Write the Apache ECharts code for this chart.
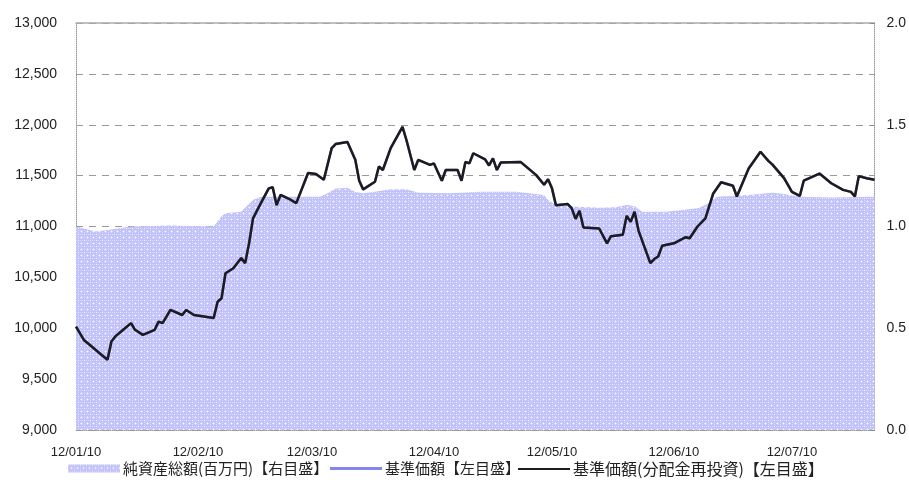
<!DOCTYPE html>
<html>
<head>
<meta charset="utf-8">
<script src="https://cdn.jsdelivr.net/npm/echarts@6/dist/echarts.min.js"></script>
<style>
html,body{margin:0;padding:0;background:#fff;}
#chart{width:909px;height:493px;}
</style>
</head>
<body>
<div id="chart"></div>
<script>
// ---- data ----
const navDates = ['2012-01-10','2012-01-12','2012-01-14','2012-01-16','2012-01-18','2012-01-19','2012-01-20','2012-01-22','2012-01-24','2012-01-25','2012-01-27','2012-01-30','2012-01-31','2012-02-01','2012-02-02','2012-02-03','2012-02-06','2012-02-07','2012-02-09','2012-02-14','2012-02-15','2012-02-16','2012-02-17','2012-02-19','2012-02-21','2012-02-22','2012-02-23','2012-02-24','2012-02-26','2012-02-28','2012-02-29','2012-03-01','2012-03-02','2012-03-04','2012-03-06','2012-03-09','2012-03-11','2012-03-13','2012-03-15','2012-03-16','2012-03-19','2012-03-21','2012-03-22','2012-03-23','2012-03-26','2012-03-27','2012-03-28','2012-03-30','2012-04-02','2012-04-03','2012-04-05','2012-04-06','2012-04-09','2012-04-10','2012-04-12','2012-04-13','2012-04-16','2012-04-17','2012-04-18','2012-04-19','2012-04-20','2012-04-23','2012-04-24','2012-04-25','2012-04-26','2012-04-27','2012-05-02','2012-05-06','2012-05-08','2012-05-09','2012-05-10','2012-05-11','2012-05-14','2012-05-15','2012-05-16','2012-05-17','2012-05-18','2012-05-22','2012-05-24','2012-05-25','2012-05-28','2012-05-29','2012-05-30','2012-05-31','2012-06-01','2012-06-04','2012-06-05','2012-06-06','2012-06-07','2012-06-10','2012-06-13','2012-06-14','2012-06-16','2012-06-18','2012-06-20','2012-06-22','2012-06-25','2012-06-26','2012-06-29','2012-07-02','2012-07-04','2012-07-05','2012-07-08','2012-07-10','2012-07-12','2012-07-13','2012-07-17','2012-07-20','2012-07-23','2012-07-25','2012-07-26','2012-07-27','2012-07-29','2012-07-31'];
const navReinvest = [10015,9885,9820,9755,9690,9870,9920,9985,10050,9985,9935,9985,10065,10050,10115,10180,10130,10180,10130,10100,10260,10295,10540,10590,10690,10640,10835,11080,11230,11375,11385,11210,11310,11275,11230,11525,11515,11460,11770,11810,11830,11655,11450,11365,11440,11590,11555,11770,11980,11850,11555,11655,11605,11620,11450,11555,11555,11450,11635,11620,11720,11660,11600,11670,11555,11630,11635,11505,11410,11465,11375,11210,11220,11180,11075,11155,10990,10980,10835,10905,10920,11105,11045,11145,10960,10640,10680,10705,10810,10835,10895,10885,11000,11080,11325,11435,11400,11295,11570,11735,11645,11610,11475,11340,11300,11450,11520,11425,11360,11340,11295,11495,11475,11460];
// 基準価額 (no distributions paid, so identical to reinvested series)
const navBase = navReinvest;

const assetDates = ['2012-01-10','2012-01-12','2012-01-15','2012-01-19','2012-01-24','2012-02-03','2012-02-14','2012-02-16','2012-02-17','2012-02-21','2012-02-24','2012-02-26','2012-03-07','2012-03-12','2012-03-14','2012-03-16','2012-03-19','2012-03-21','2012-03-23','2012-03-26','2012-03-30','2012-04-03','2012-04-06','2012-04-14','2012-04-22','2012-05-01','2012-05-08','2012-05-09','2012-05-11','2012-05-14','2012-05-22','2012-05-26','2012-05-29','2012-05-31','2012-06-02','2012-06-08','2012-06-16','2012-06-18','2012-06-21','2012-06-29','2012-07-05','2012-07-08','2012-07-12','2012-07-20','2012-07-31'];
const netAssets = [1.00,0.99,0.975,0.985,1.0,1.005,1.0,1.05,1.065,1.073,1.13,1.146,1.146,1.146,1.163,1.187,1.19,1.17,1.163,1.171,1.183,1.183,1.166,1.163,1.171,1.171,1.155,1.13,1.106,1.10,1.092,1.095,1.106,1.10,1.073,1.073,1.09,1.106,1.146,1.155,1.166,1.16,1.146,1.143,1.146];

const xTickDates = ['2012-01-10','2012-02-10','2012-03-10','2012-04-10','2012-05-10','2012-06-10','2012-07-10'];
const xTickLabels = ['12/01/10','12/02/10','12/03/10','12/04/10','12/05/10','12/06/10','12/07/10'];
const legendNames = ['純資産総額(百万円)【右目盛】','基準価額【左目盛】','基準価額(分配金再投資)【左目盛】'];

// ---- helpers ----
function ts(s){const p=s.split('-');return Date.UTC(+p[0],+p[1]-1,+p[2]);}
const tickTs = xTickDates.map(ts);
function makePattern(){
  const c=document.createElement('canvas');c.width=6;c.height=6;
  const g=c.getContext('2d');
  g.fillStyle='rgb(192,192,250)';g.fillRect(0,0,6,6);
  g.fillStyle='rgba(255,255,255,0.85)';
  g.fillRect(0,0,1,1);g.fillRect(3,3,1,1);
  g.fillStyle='rgba(255,255,255,0.45)';
  g.fillRect(2,3,1,1);g.fillRect(4,3,1,1);g.fillRect(3,2,1,1);g.fillRect(3,4,1,1);
  g.fillRect(0,2,1,1);g.fillRect(2,0,1,1);g.fillRect(4,0,1,1);g.fillRect(0,4,1,1);
  return c;
}
const pattern={image:makePattern(),repeat:'repeat'};
function lineIcon(color,half){
  const a=0.5-half, b=0.5+half;
  return {type:'linear',x:0,y:0,x2:0,y2:1,colorStops:[
    {offset:0,color:'rgba(255,255,255,0)'},{offset:a,color:'rgba(255,255,255,0)'},
    {offset:a,color:color},{offset:b,color:color},
    {offset:b,color:'rgba(255,255,255,0)'},{offset:1,color:'rgba(255,255,255,0)'}]};
}
const blueLine='#8585f0', blackLine='#1c1c1c';

const chart=echarts.init(document.getElementById('chart'),null,{renderer:'canvas'});
const axisFont={fontFamily:'Liberation Sans',fontSize:13,color:'#222'};
const legendText={fontFamily:'Noto Sans CJK JP',fontSize:15,color:'#222'};
const xMin=ts('2012-01-10'), xMax=ts('2012-07-31');
function legendAt(left,idx,itemStyle,fs){
  return {top:461,left:left,itemWidth:52,itemHeight:8,itemGap:0,padding:0,
    textStyle:Object.assign({padding:[0,0,0,-2]},legendText,{fontSize:fs}),selectedMode:false,
    data:[{name:legendNames[idx],icon:'rect',itemStyle:itemStyle}]};
}
chart.setOption({
  animation:false,
  backgroundColor:'#fff',
  grid:{left:76,right:32,top:23,bottom:63,containLabel:false},
  legend:[
    legendAt(68,0,{color:pattern},15),
    legendAt(330,1,{color:lineIcon(blueLine,0.2)},15),
    legendAt(518,2,{color:lineIcon(blackLine,0.14)},16)
  ],
  xAxis:[{
    type:'value',min:xMin,max:xMax,
    axisLine:{show:true,lineStyle:{color:'#999',type:[1,1],width:1}},
    axisTick:{show:true,inside:true,length:4,customValues:tickTs,lineStyle:{color:'#888'}},
    axisLabel:Object.assign({customValues:tickTs,margin:16,
      formatter:function(v){const i=tickTs.indexOf(v);return i>=0?xTickLabels[i]:'';}},axisFont),
    splitLine:{show:false}
  },{
    type:'value',position:'top',min:xMin,max:xMax,
    axisLine:{show:true,lineStyle:{color:'#aaa',width:1.5}},
    axisTick:{show:false},axisLabel:{show:false},splitLine:{show:false}
  }],
  yAxis:[{
    type:'value',min:9000,max:13000,interval:500,position:'left',
    axisLine:{show:true,lineStyle:{color:'#999',type:[1,1]}},
    axisTick:{show:false},
    axisLabel:Object.assign({margin:19,formatter:function(v){return v.toLocaleString('en-US');}},axisFont,{fontSize:14}),
    splitLine:{show:true,lineStyle:{color:'#9a9a9a',type:[7,6],width:1}}
  },{
    type:'value',min:0,max:2,interval:0.5,position:'right',
    axisLine:{show:true,lineStyle:{color:'#999',type:[1,1]}},
    axisTick:{show:true,inside:true,length:4,lineStyle:{color:'#888'}},
    axisLabel:Object.assign({margin:12,formatter:function(v){return v.toFixed(1);}},axisFont,{fontSize:14}),
    splitLine:{show:false}
  }],
  series:[{
    name:legendNames[0],type:'line',yAxisIndex:1,
    data:assetDates.map((d,i)=>[ts(d),netAssets[i]]),
    symbol:'none',lineStyle:{width:0},
    itemStyle:{color:'rgb(192,192,250)'},
    areaStyle:{color:pattern,opacity:1},z:1
  },{
    name:legendNames[1],type:'line',yAxisIndex:0,
    data:navDates.map((d,i)=>[ts(d),navBase[i]]),
    symbol:'none',lineStyle:{width:2.5,color:blueLine},itemStyle:{color:blueLine},z:2
  },{
    name:legendNames[2],type:'line',yAxisIndex:0,
    data:navDates.map((d,i)=>[ts(d),navReinvest[i]]),
    symbol:'none',lineStyle:{width:2.5,color:blackLine},itemStyle:{color:blackLine},z:3
  }]
});
</script>
</body>
</html>
